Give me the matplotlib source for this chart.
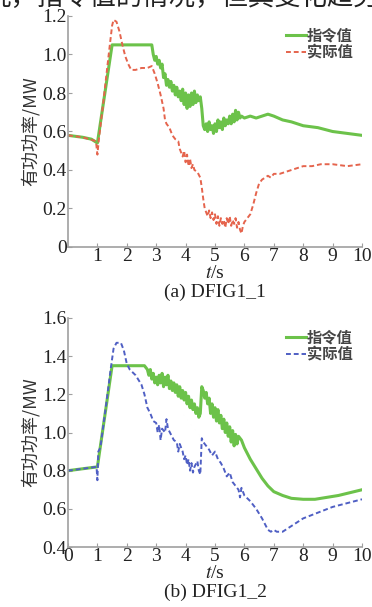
import matplotlib
matplotlib.use("Agg")
import matplotlib.pyplot as plt

plt.rcParams['font.family'] = ['Liberation Serif', 'Noto Sans CJK SC']
plt.rcParams['mathtext.fontset'] = 'stix'

# (a) DFIG1_1
t_cmd1 = [0, 0.5, 0.8, 1.0, 1.5, 2.85, 2.9, 2.95, 3.0, 3.05, 3.1, 3.15, 3.2, 3.25, 3.3, 3.35,
          3.4, 3.45, 3.5, 3.55, 3.6, 3.65, 3.7, 3.75, 3.8, 3.85, 3.9, 3.95, 4.0, 4.05, 4.1,
          4.15, 4.2, 4.25, 4.3, 4.35, 4.4, 4.45, 4.5, 4.55, 4.6, 4.65, 4.7, 4.75, 4.8, 4.85,
          4.9, 4.95, 5.0, 5.05, 5.1, 5.15, 5.2, 5.25, 5.3, 5.35, 5.4, 5.45, 5.5, 5.55, 5.6,
          5.65, 5.7, 5.75, 5.8, 5.85, 5.9, 6.0, 6.2, 6.4, 6.6, 6.8, 7.0, 7.3, 7.6, 8.0, 8.5,
          9.0, 9.5, 10.0]
p_cmd1 = [0.58, 0.57, 0.56, 0.54, 1.05, 1.05, 1.00, 0.97, 0.99, 0.95, 0.97, 0.93, 0.95, 0.88,
          0.90, 0.84, 0.87, 0.83, 0.86, 0.81, 0.84, 0.79, 0.83, 0.78, 0.81, 0.76, 0.82, 0.74,
          0.80, 0.72, 0.79, 0.73, 0.80, 0.74, 0.81, 0.75, 0.79, 0.76, 0.78, 0.72, 0.63, 0.61,
          0.64, 0.60, 0.65, 0.61, 0.63, 0.59, 0.64, 0.60, 0.66, 0.62, 0.65, 0.61, 0.67, 0.63,
          0.66, 0.64, 0.68, 0.64, 0.69, 0.65, 0.71, 0.66, 0.70, 0.67, 0.68, 0.67, 0.68, 0.67,
          0.68, 0.69, 0.68, 0.66, 0.65, 0.63, 0.62, 0.60, 0.59, 0.58]

t_act1 = [0, 0.5, 0.95, 1.0, 1.05, 1.2, 1.4, 1.5, 1.55, 1.65, 1.75, 1.85, 1.95, 2.05, 2.15,
          2.3, 2.5, 2.7, 2.85, 2.95, 3.05, 3.15, 3.25, 3.3, 3.35, 3.45, 3.55, 3.65, 3.75, 3.8,
          3.85, 3.9, 3.95, 4.0, 4.05, 4.1, 4.15, 4.2, 4.25, 4.3, 4.4, 4.5, 4.55, 4.6, 4.65,
          4.7, 4.75, 4.8, 4.85, 4.9, 4.95, 5.0, 5.05, 5.1, 5.15, 5.2, 5.25, 5.3, 5.35, 5.4,
          5.45, 5.5, 5.55, 5.6, 5.65, 5.7, 5.75, 5.8, 5.85, 5.9, 5.95, 6.0, 6.1, 6.2, 6.3,
          6.4, 6.5, 6.6, 6.7, 6.8, 6.9, 7.0, 7.2, 7.4, 7.6, 7.8, 8.0, 8.3, 8.6, 9.0, 9.5, 10.0]
p_act1 = [0.58, 0.57, 0.55, 0.48, 0.56, 0.75, 1.02, 1.15, 1.18, 1.17, 1.12, 1.05, 0.99, 0.95,
          0.92, 0.92, 0.93, 0.93, 0.94, 0.90, 0.85, 0.79, 0.72, 0.66, 0.64, 0.62, 0.58, 0.56,
          0.55, 0.51, 0.49, 0.47, 0.50, 0.44, 0.48, 0.42, 0.46, 0.41, 0.43, 0.40, 0.39, 0.36,
          0.31, 0.25, 0.20, 0.18, 0.16, 0.19, 0.15, 0.18, 0.14, 0.17, 0.12, 0.16, 0.11, 0.15,
          0.12, 0.14, 0.10, 0.15, 0.12, 0.16, 0.11, 0.14, 0.12, 0.15, 0.10, 0.13, 0.09, 0.07,
          0.11, 0.13, 0.15, 0.17, 0.22, 0.28, 0.33, 0.35, 0.36, 0.37, 0.36, 0.38, 0.38, 0.39,
          0.40, 0.41, 0.42, 0.42, 0.43, 0.43, 0.42, 0.43]

# (b) DFIG1_2
t_cmd2 = [0, 0.5, 1.0, 1.5, 2.6, 2.7, 2.75, 2.8, 2.85, 2.9, 2.95, 3.0, 3.05, 3.1, 3.15, 3.2,
          3.25, 3.3, 3.35, 3.4, 3.45, 3.5, 3.55, 3.6, 3.65, 3.7, 3.75, 3.8, 3.85, 3.9, 3.95,
          4.0, 4.05, 4.1, 4.15, 4.2, 4.25, 4.3, 4.35, 4.4, 4.45, 4.5, 4.55, 4.6, 4.65, 4.7,
          4.75, 4.8, 4.85, 4.9, 4.95, 5.0, 5.05, 5.1, 5.15, 5.2, 5.25, 5.3, 5.35, 5.4, 5.45,
          5.5, 5.55, 5.6, 5.65, 5.7, 5.75, 5.8, 5.9, 6.0, 6.2, 6.4, 6.6, 6.8, 7.0, 7.3, 7.6,
          8.0, 8.4, 8.8, 9.2, 9.6, 10.0]
p_cmd2 = [0.80, 0.81, 0.82, 1.35, 1.35, 1.33, 1.30, 1.33, 1.28, 1.31, 1.26, 1.29, 1.25, 1.30,
          1.26, 1.31, 1.24, 1.29, 1.25, 1.30, 1.23, 1.27, 1.22, 1.26, 1.21, 1.25, 1.19, 1.24,
          1.18, 1.22, 1.17, 1.21, 1.15, 1.19, 1.13, 1.17, 1.12, 1.15, 1.10, 1.13, 1.08, 1.10,
          1.24, 1.22, 1.18, 1.21, 1.15, 1.18, 1.10, 1.15, 1.08, 1.13, 1.06, 1.12, 1.05, 1.09,
          1.02, 1.07, 1.00, 1.05, 0.98, 1.03, 0.95, 1.01, 0.93, 0.99, 0.94, 0.98, 0.96, 0.92,
          0.86, 0.81, 0.76, 0.72, 0.69, 0.67, 0.655, 0.65, 0.65, 0.66, 0.67, 0.685, 0.70]

t_act2 = [0, 0.5, 0.97, 1.0, 1.03, 1.1, 1.3, 1.45, 1.55, 1.65, 1.8, 1.9, 2.0, 2.1, 2.3, 2.5,
          2.6, 2.7, 2.8, 2.9, 3.0, 3.05, 3.1, 3.15, 3.2, 3.3, 3.35, 3.4, 3.5, 3.6, 3.7, 3.75,
          3.8, 3.9, 3.95, 4.0, 4.05, 4.1, 4.15, 4.2, 4.25, 4.3, 4.4, 4.45, 4.5, 4.55, 4.6,
          4.7, 4.8, 4.9, 5.0, 5.1, 5.2, 5.3, 5.4, 5.5, 5.6, 5.7, 5.8, 5.85, 5.9, 6.0, 6.2,
          6.4, 6.6, 6.8, 6.9, 7.0, 7.1, 7.3, 7.5, 7.8, 8.0, 8.5, 9.0, 9.5, 10.0]
p_act2 = [0.80, 0.81, 0.82, 0.75, 0.90, 0.92, 1.15, 1.33, 1.44, 1.47, 1.47, 1.43, 1.36, 1.33,
          1.30, 1.25, 1.20, 1.13, 1.10, 1.06, 1.05, 1.00, 1.04, 0.96, 1.02, 1.00, 1.07, 1.02,
          0.99, 0.96, 0.95, 0.90, 0.94, 0.90, 0.86, 0.88, 0.83, 0.86, 0.80, 0.84, 0.79, 0.82,
          0.85, 0.80, 0.78, 0.97, 0.95, 0.93, 0.91, 0.88, 0.90, 0.86, 0.84, 0.81, 0.77, 0.79,
          0.74, 0.72, 0.70, 0.66, 0.71, 0.67, 0.64, 0.60, 0.55, 0.49, 0.48, 0.49, 0.48, 0.48,
          0.50, 0.53, 0.55, 0.58, 0.61, 0.63, 0.65]

labels = ['指令值', '实际值']
green = '#6cc24a'
red = '#e5644d'
blue = '#4f5fc4'
cjk = ['Noto Sans CJK SC', 'DejaVu Sans']

fig = plt.figure(figsize=(3.72, 6.07), dpi=100)

# cut-off line of body text above the figure
fig.text(-0.04, 1 - 11 / 607, '况，指令值的情况，但其变化趋势', family=cjk, fontsize=19,
         va='bottom', ha='left', color='#222222')

ax1 = fig.add_axes([68 / 372, 1 - 247 / 607, 294 / 372, 231 / 607])
ax2 = fig.add_axes([68 / 372, 1 - 547 / 607, 294 / 372, 229 / 607])

ax1.plot(t_cmd1, p_cmd1, color=green, lw=2.2, label=labels[0])
ax1.plot(t_act1, p_act1, color=red, lw=1.4, ls=(0, (2.5, 1.5)), label=labels[1])
ax2.plot(t_cmd2, p_cmd2, color=green, lw=2.2, label=labels[0])
ax2.plot(t_act2, p_act2, color=blue, lw=1.4, ls=(0, (2.5, 1.5)), label=labels[1])

ax1.set_ylim(0, 1.2)
ax1.set_yticks([0, 0.2, 0.4, 0.6, 0.8, 1.0, 1.2])
ax1.set_yticklabels(['0', '0.2', '0.4', '0.6', '0.8', '1.0', '1.2'])
ax1.set_xticks(range(1, 11))
ax2.set_ylim(0.4, 1.6)
ax2.set_yticks([0.4, 0.6, 0.8, 1.0, 1.2, 1.4, 1.6])
ax2.set_yticklabels(['0.4', '0.6', '0.8', '1.0', '1.2', '1.4', '1.6'])
ax2.set_xticks(range(0, 11))

for ax, cap in [(ax1, '(a) DFIG1_1'), (ax2, '(b) DFIG1_2')]:
    ax.set_xlim(0, 10)
    h = ax.get_position().height * 607
    for s in ['top', 'right']:
        ax.spines[s].set_visible(False)
    for s in ['left', 'bottom']:
        ax.spines[s].set_color('#a0a0a0')
        ax.spines[s].set_linewidth(1.2)
    ax.tick_params(direction='in', length=3, color='#a0a0a0', labelsize=14,
                   labelcolor='#222222', pad=1)
    ax.set_ylabel('有功功率/MW', family=cjk, fontsize=13, color='#333333', labelpad=2)
    ax.set_xlabel('$t$/s', fontsize=14, color='#222222', va='center')
    ax.xaxis.set_label_coords(0.5, -27 / h)
    ax.text(0.5, -45 / h, cap, transform=ax.transAxes, ha='center', va='center',
            fontsize=14, color='#222222')
    leg = ax.legend(loc='upper right', bbox_to_anchor=(1.0, 0.99), frameon=False,
                    prop={'family': cjk, 'size': 11, 'weight': 'bold'}, handlelength=1.3,
                    handletextpad=0.1, labelspacing=0.05, borderaxespad=0.2)
    for txt in leg.get_texts():
        txt.set_color('#444444')

fig.savefig('out.png', dpi=100)
